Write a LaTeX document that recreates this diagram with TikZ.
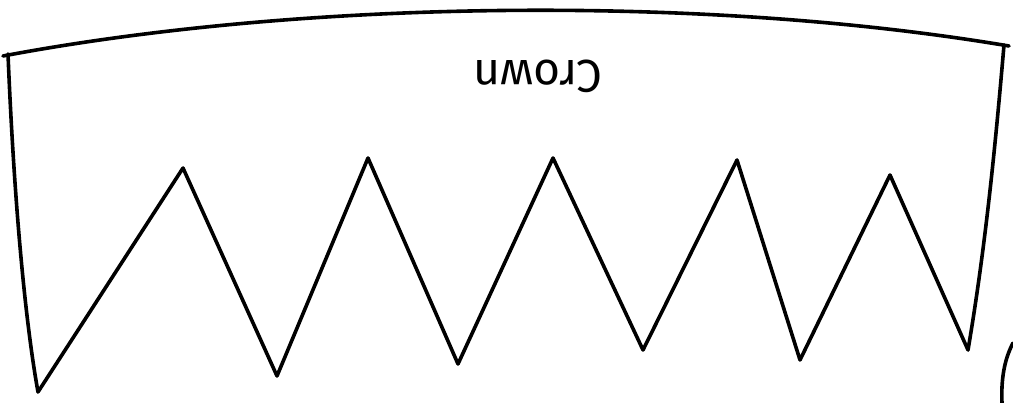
\documentclass[tikz,border=0pt]{standalone}
\usepackage{fontspec}
\setmainfont{Fira Sans}
\tikzset{pen/.style={line width=3.6pt, line join=round, line cap=round, black}}
\begin{document}
\begin{tikzpicture}[x=1pt,y=-1pt]
\useasboundingbox[fill=white] (0,0) rectangle (1013,403);
\coordinate (tl) at (8,54);
\coordinate (tr) at (1004,45);
\draw[pen] (3,56) .. controls (300,0) and (700,-6) .. (1009,46);
\draw[pen] (tl) .. controls (14,200) and (25,320) .. (38,392)
  -- (183,168) -- (277,376) -- (368,158) -- (458,364) -- (553,158)
  -- (643,350) -- (737,160) -- (800,360) -- (890,175) -- (968,350)
  .. controls (985,250) and (995,150) .. (tr);
\coordinate (c1) at (1013,343);
\coordinate (c2) at (1002,403);
\draw[pen] (c1) .. controls (1004,360) and (1001,380) .. (c2);
\node[rotate=180, font=\fontsize{46}{50}\selectfont] (crown) at (538,76) {Crown};
\end{tikzpicture}
\end{document}
